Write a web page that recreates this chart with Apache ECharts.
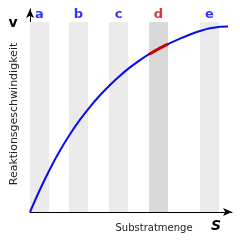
<!DOCTYPE html>
<html>
<head>
<meta charset="utf-8">
<script src="https://cdn.jsdelivr.net/npm/echarts@6/dist/echarts.min.js"></script>
<style>html,body{margin:0;padding:0;background:#fff}#c{width:240px;height:245px}</style>
</head>
<body>
<div id="c"></div>
<script>
// Data (x: substrate amount, y: reaction rate, in chart units)
var curveX = [0,10,20,30,40,50,60,70,80,90,100,110,120,130,140,150,160,170,180,190,198];
var curveY = [0,22.5,43,61.5,77.8,92.3,105.2,116.7,127,136.3,144.6,151.9,158.3,163.8,168.8,173.4,177.5,181,183.7,185.3,185.6];
var redX = [119,128,138];
var redY = [157.7,162.8,167.8];
var bandNames = ['a','b','c','d','e'];
var bandStart = [0,39,79,119,170];
var bandEnd = [19,58,98,138,189];
var bandTop = 190;
var labelY = 197;
var highlighted = 'd';

var chart = echarts.init(document.getElementById('c'), null, {renderer:'canvas'});
var FONT = 'DejaVu Sans';

var curve = curveX.map(function(x,i){return [x, curveY[i]];});
var red = redX.map(function(x,i){return [x, redY[i]];});
var areas = bandNames.map(function(n,i){
  return [{xAxis: bandStart[i], yAxis: 0, itemStyle:{color: n===highlighted ? '#d9d9d9' : '#ebebeb'}},
          {xAxis: bandEnd[i], yAxis: bandTop}];
});
var labels = bandNames.map(function(n,i){
  return {name:n, value:[(bandStart[i]+bandEnd[i])/2, labelY],
    label:{color: n===highlighted ? '#dd0000' : '#0000ff'}};
});

chart.setOption({
  animation:false,
  grid:{left:30, right:8, top:9, bottom:33, containLabel:false},
  xAxis:{type:'value', min:0, max:202, axisLine:{show:true, lineStyle:{color:'#000', width:1}, symbol:['none','arrow'], symbolSize:[6,9]},
    axisTick:{show:false}, axisLabel:{show:false}, splitLine:{show:false}},
  yAxis:{type:'value', min:0, max:203, axisLine:{show:true, lineStyle:{color:'#000', width:1}, symbol:['none','arrow'], symbolSize:[6,9]},
    axisTick:{show:false}, axisLabel:{show:false}, splitLine:{show:false}},
  series:[
    {type:'line', data:[], markArea:{silent:true, data:areas}, z:1},
    {type:'line', data:curve, smooth:0.3, showSymbol:false, lineStyle:{color:'#0a0aee', width:2}, z:3},
    {type:'line', data:red, smooth:0.3, showSymbol:false, lineStyle:{color:'#cc0000', width:3}, z:4},
    {type:'scatter', data:labels, symbolSize:0, z:5,
      label:{show:true, position:'inside', formatter:'{b}', fontFamily:FONT, fontSize:13, fontWeight:'bold'}}
  ],
  graphic:[
    {type:'text', x:13, y:23, style:{text:'v', fontFamily:FONT, fontSize:14, fontWeight:'bold', fill:'#000', align:'center', verticalAlign:'middle'}},
    {type:'text', x:216, y:226, style:{text:'S', fontFamily:FONT, fontSize:14, fontWeight:'bold', fontStyle:'italic', fill:'#000', align:'center', verticalAlign:'middle'}},
    {type:'text', x:154, y:228, style:{text:'Substratmenge', fontFamily:FONT, fontSize:10, fill:'#222', align:'center', verticalAlign:'middle'}},
    {type:'text', x:14, y:114, rotation:Math.PI/2, style:{text:'Reaktionsgeschwindigkeit', fontFamily:FONT, fontSize:11, fill:'#222', align:'center', verticalAlign:'middle'}}
  ]
});
</script>
</body>
</html>
